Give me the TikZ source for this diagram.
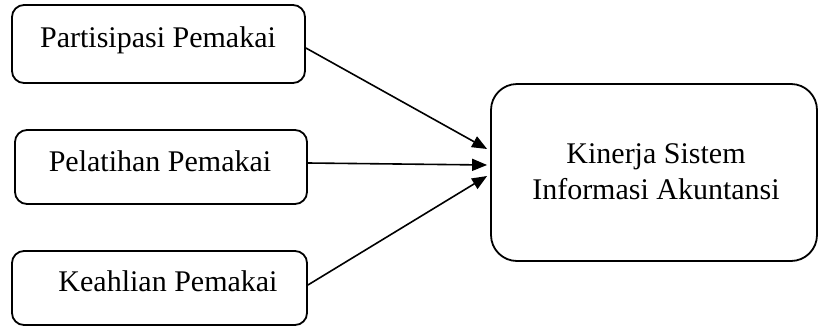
\documentclass[tikz,border=0pt]{standalone}
\usepackage{fontspec}
\setmainfont{Liberation Serif}
\usetikzlibrary{arrows.meta}
\begin{document}
\begin{tikzpicture}[x=1pt,y=-1pt,
  box/.style={draw=black, line width=1.8pt, rounded corners=#1, minimum width=0pt, inner sep=0pt},
  box/.default=12pt,
  txt/.style={anchor=base, inner sep=0pt, font=\fontsize{30}{36}\selectfont},
  conn/.style={line width=1.6pt, -{Triangle[length=15pt,width=12pt]}}]
\useasboundingbox (0,0) rectangle (819,327);
% boxes
\node[box, minimum width=293pt, minimum height=78pt] (b1) at (158.5,44) {};
\node[box, minimum width=292pt, minimum height=74pt] (b2) at (161,167) {};
\node[box, minimum width=295pt, minimum height=74pt] (b3) at (159.5,288) {};
\node[box=26pt, minimum width=326pt, minimum height=177pt] (b4) at (654,172.5) {};
% texts
\node[txt] (t1) at (158,47) {Partisipasi Pemakai};
\node[txt] (t2) at (160,171) {Pelatihan Pemakai};
\node[txt] (t3) at (168,291) {Keahlian Pemakai};
\node[txt] (t4a) at (656,163) {Kinerja Sistem};
\node[txt] (t4b) at (656,199) {Informasi Akuntansi};
% connectors
\draw[conn] ([yshift=-4pt]b1.east) -- ([xshift=-3pt,yshift=23.5pt]b4.west);
\draw[conn] ([yshift=4pt]b2.east) -- ([xshift=-3pt,yshift=7.5pt]b4.west);
\draw[conn] ([yshift=3pt]b3.east) -- ([xshift=-3pt,yshift=-3.5pt]b4.west);
\end{tikzpicture}
\end{document}
